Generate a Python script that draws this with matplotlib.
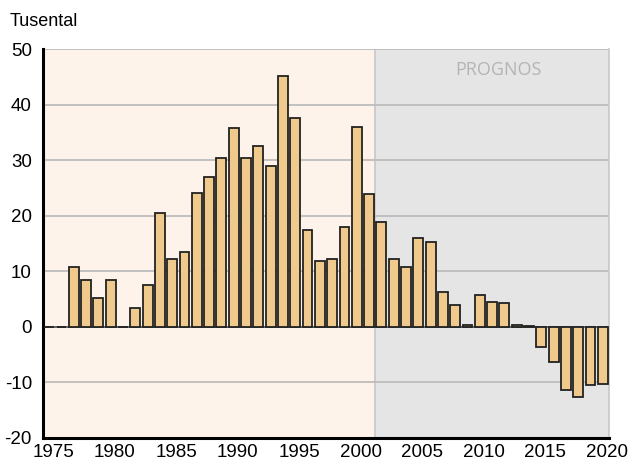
import numpy as np
import matplotlib
matplotlib.use("Agg")
import matplotlib.pyplot as plt
from matplotlib.transforms import ScaledTranslation

# nettoflyttning per år, tusental (2002- är prognos)
years = np.arange(1975, 2021)
values = [0, 0, 10.7, 8.4, 5.2, 8.5, 0, 3.4, 7.6, 20.5,
          12.3, 13.4, 24.1, 27.0, 30.3, 35.7, 30.3, 32.6, 29.0, 45.2,
          37.5, 17.5, 11.9, 12.3, 17.9, 35.9, 23.9, 18.9, 12.3, 10.8,
          16.0, 15.3, 6.2, 4.0, 0.3, 5.7, 4.5, 4.3, 0.35, 0.1,
          -3.6, -6.3, -11.3, -12.6, -10.4, -10.3]
prognos_start = 2001.5
yticks = [-20, -10, 0, 10, 20, 30, 40, 50]
xticks = [1975, 1980, 1985, 1990, 1995, 2000, 2005, 2010, 2015, 2020]

plt.rcParams["font.family"] = ["Liberation Sans", "DejaVu Sans"]
plt.rcParams["axes.unicode_minus"] = False

fig = plt.figure(figsize=(6.34, 4.62), dpi=100)
ax = fig.add_axes([43/634, 24/462, 566/634, 389/462])

x0, x1 = 1974.5, 2020.5
ax.set_xlim(x0, x1)
ax.set_ylim(-20, 50)

# bakgrund: historik / prognos
ax.axvspan(x0, prognos_start, color="#fdf3ea", zorder=0, lw=0)
ax.axvspan(prognos_start, x1, color="#e5e5e5", zorder=0, lw=0)
ax.axvline(prognos_start, color="#c8c8c8", lw=1.2, zorder=1)

for t in yticks[1:]:
    ax.axhline(t, color="#bdbdbd", lw=1.3, zorder=1)
ax.axhline(0, color="#555555", lw=1.2, zorder=2)

ax.bar(years, values, width=0.8, color="#f0ca8c", edgecolor="#222222",
       linewidth=1.3, zorder=3)

ax.text(2011.5, 46.2, "PROGNOS", ha="center", va="center", fontsize=13,
        color="#b4b4b4", family="Open Sans", zorder=4)

ax.set_yticks(yticks)
ax.set_xticks(xticks)
ax.tick_params(axis="both", length=0, labelsize=13.5, colors="black")
ax.tick_params(axis="y", pad=8)
ax.tick_params(axis="x", pad=4)
# årtalen sitter lite till höger om staplarna
shift = ScaledTranslation(4/100, 0, fig.dpi_scale_trans)
for lbl in ax.get_xticklabels():
    lbl.set_transform(lbl.get_transform() + shift)

for s in ("top", "right"):
    ax.spines[s].set_color("#c8c8c8")
    ax.spines[s].set_linewidth(1.2)
for s in ("left", "bottom"):
    ax.spines[s].set_color("black")
    ax.spines[s].set_linewidth(2.2)
ax.spines["top"].set_visible(False)

fig.text(10/634, 1 - 21/462, "Tusental", fontsize=13, va="center", ha="left")

fig.savefig("out.png", dpi=100)
